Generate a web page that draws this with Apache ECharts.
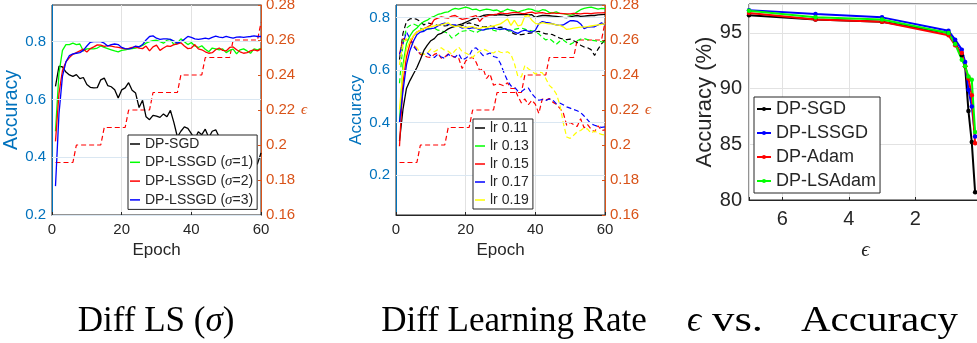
<!DOCTYPE html>
<html>
<head>
<meta charset="utf-8">
<script src="https://cdn.jsdelivr.net/npm/echarts@6/dist/echarts.min.js"></script>
<style>
  html, body { margin: 0; padding: 0; background: #fff; }
  #chart { width: 977px; height: 343px; }
</style>
</head>
<body>
<div id="chart"></div>
<script>
// ---- training epochs (shared by the two training panels) ----
const epochs = [1,2,3,4,5,6,7,8,9,10,11,12,13,14,15,16,17,18,19,20,
  21,22,23,24,25,26,27,28,29,30,31,32,33,34,35,36,37,38,39,40,
  41,42,43,44,45,46,47,48,49,50,51,52,53,54,55,56,57,58,59,60];

// privacy budget spent after each epoch (right axis, dashed red)
const epsilonBudget = [0.19,0.19,0.19,0.19,0.19,0.19,0.20,0.20,0.20,0.20,
  0.20,0.20,0.20,0.20,0.21,0.21,0.21,0.21,0.21,0.21,
  0.21,0.22,0.22,0.22,0.22,0.22,0.22,0.22,0.23,0.23,
  0.23,0.23,0.23,0.23,0.23,0.23,0.24,0.24,0.24,0.24,
  0.24,0.24,0.24,0.25,0.25,0.25,0.25,0.25,0.25,0.25,
  0.25,0.26,0.26,0.26,0.26,0.26,0.26,0.26,0.26,0.27];

// accuracy ticks shown on the left axes
const accuracyTicks = [0.2, 0.4, 0.6, 0.8];

// ---- panel 1: smoothing parameter sigma ----
const lsNames = ['DP-SGD', 'DP-LSSGD (σ=1)', 'DP-LSSGD (σ=2)', 'DP-LSSGD (σ=3)'];
const accSGD = [0.645,0.715,0.713,0.695,0.685,0.680,0.686,0.672,0.676,0.652,
  0.642,0.640,0.641,0.668,0.674,0.648,0.644,0.634,0.605,0.633,
  0.640,0.658,0.632,0.622,0.572,0.597,0.540,0.530,0.545,0.542,
  0.538,0.550,0.540,0.562,0.520,0.470,0.490,0.505,0.500,0.482,
  0.462,0.488,0.478,0.497,0.468,0.490,0.495,0.470,0.452,0.440,
  0.432,0.420,0.415,0.405,0.395,0.388,0.370,0.365,0.378,0.415];
const accSigma1 = [0.490,0.690,0.770,0.790,0.790,0.795,0.790,0.792,0.768,0.775,
  0.776,0.775,0.778,0.785,0.780,0.776,0.772,0.768,0.765,0.770,
  0.772,0.774,0.776,0.778,0.782,0.787,0.795,0.800,0.804,0.805,
  0.800,0.795,0.805,0.808,0.790,0.795,0.810,0.800,0.790,0.797,
  0.785,0.780,0.786,0.774,0.765,0.778,0.775,0.772,0.775,0.762,
  0.770,0.774,0.758,0.772,0.775,0.768,0.760,0.775,0.772,0.777];
const accSigma2 = [0.455,0.620,0.700,0.730,0.745,0.756,0.762,0.768,0.774,0.764,
  0.776,0.782,0.789,0.788,0.784,0.786,0.785,0.782,0.780,0.778,
  0.775,0.777,0.780,0.782,0.778,0.776,0.785,0.768,0.782,0.788,
  0.770,0.778,0.785,0.784,0.790,0.792,0.796,0.785,0.776,0.778,
  0.790,0.775,0.772,0.765,0.760,0.762,0.772,0.778,0.770,0.768,
  0.780,0.782,0.772,0.765,0.760,0.762,0.768,0.772,0.768,0.775];
const accSigma3 = [0.300,0.550,0.680,0.730,0.752,0.758,0.760,0.762,0.770,0.785,
  0.798,0.800,0.800,0.800,0.795,0.785,0.790,0.792,0.790,0.780,
  0.776,0.775,0.778,0.785,0.782,0.790,0.806,0.818,0.820,0.812,
  0.808,0.810,0.810,0.808,0.802,0.795,0.800,0.808,0.818,0.815,
  0.810,0.808,0.810,0.812,0.810,0.815,0.819,0.816,0.814,0.818,
  0.815,0.812,0.816,0.817,0.815,0.817,0.818,0.820,0.818,0.818];

// ---- panel 2: learning rates (solid and dashed curve per rate) ----
const lrNames = ['lr 0.11', 'lr 0.13', 'lr 0.15', 'lr 0.17', 'lr 0.19'];
const lr011Solid = [0.330,0.450,0.530,0.560,0.585,0.610,0.640,0.675,0.695,0.712,
  0.720,0.735,0.740,0.748,0.757,0.763,0.767,0.772,0.776,0.782,
  0.788,0.794,0.799,0.803,0.808,0.810,0.811,0.810,0.810,0.811,
  0.810,0.808,0.810,0.811,0.812,0.811,0.812,0.810,0.811,0.800,
  0.806,0.808,0.808,0.807,0.806,0.805,0.803,0.801,0.800,0.803,
  0.806,0.808,0.805,0.806,0.807,0.808,0.808,0.810,0.811,0.812];
const lr013Solid = [0.400,0.620,0.700,0.730,0.750,0.760,0.775,0.785,0.790,0.800,
  0.805,0.812,0.815,0.820,0.822,0.830,0.835,0.832,0.836,0.840,
  0.836,0.830,0.832,0.826,0.829,0.832,0.830,0.827,0.829,0.822,
  0.826,0.832,0.828,0.826,0.820,0.826,0.829,0.833,0.831,0.826,
  0.824,0.830,0.828,0.820,0.818,0.822,0.816,0.815,0.812,0.808,
  0.812,0.822,0.830,0.835,0.838,0.840,0.836,0.832,0.835,0.834];
const lr015Solid = [0.310,0.550,0.650,0.700,0.730,0.745,0.752,0.758,0.764,0.772,
  0.792,0.798,0.803,0.800,0.798,0.806,0.808,0.800,0.793,0.796,
  0.800,0.804,0.808,0.785,0.800,0.806,0.810,0.811,0.813,0.818,
  0.816,0.815,0.818,0.820,0.819,0.816,0.815,0.819,0.821,0.816,
  0.818,0.819,0.816,0.815,0.818,0.816,0.816,0.815,0.814,0.814,
  0.816,0.815,0.814,0.816,0.816,0.815,0.817,0.818,0.818,0.819];
const lr017Solid = [0.400,0.520,0.620,0.675,0.710,0.735,0.745,0.748,0.757,0.758,
  0.760,0.768,0.775,0.779,0.774,0.772,0.772,0.767,0.760,0.764,
  0.758,0.762,0.760,0.754,0.752,0.757,0.758,0.760,0.757,0.755,
  0.758,0.754,0.752,0.745,0.740,0.748,0.752,0.748,0.745,0.752,
  0.776,0.785,0.782,0.780,0.776,0.772,0.770,0.772,0.780,0.788,
  0.788,0.786,0.776,0.758,0.764,0.765,0.765,0.772,0.780,0.772];
const lr019Solid = [0.450,0.600,0.680,0.710,0.730,0.745,0.752,0.758,0.762,0.766,
  0.768,0.771,0.772,0.776,0.780,0.770,0.766,0.768,0.764,0.762,
  0.765,0.766,0.760,0.758,0.764,0.762,0.766,0.768,0.772,0.776,
  0.785,0.795,0.770,0.790,0.768,0.772,0.805,0.808,0.790,0.778,
  0.775,0.781,0.778,0.776,0.776,0.772,0.770,0.765,0.755,0.757,
  0.760,0.762,0.764,0.765,0.766,0.768,0.770,0.772,0.774,0.776];
const lr011Dashed = [0.640,0.740,0.785,0.795,0.797,0.793,0.785,0.772,0.780,0.777,
  0.775,0.770,0.772,0.768,0.770,0.772,0.768,0.765,0.770,0.775,
  0.780,0.776,0.772,0.768,0.765,0.766,0.768,0.765,0.762,0.764,
  0.762,0.752,0.745,0.738,0.735,0.735,0.737,0.740,0.742,0.745,
  0.748,0.742,0.738,0.738,0.735,0.728,0.722,0.718,0.716,0.718,
  0.712,0.705,0.695,0.688,0.685,0.678,0.656,0.680,0.700,0.715];
const lr013Dashed = [0.550,0.700,0.760,0.770,0.776,0.770,0.760,0.750,0.755,0.758,
  0.760,0.752,0.750,0.745,0.740,0.722,0.730,0.740,0.748,0.750,
  0.752,0.748,0.742,0.750,0.752,0.756,0.758,0.752,0.748,0.755,
  0.758,0.752,0.748,0.755,0.758,0.760,0.756,0.752,0.750,0.745,
  0.738,0.725,0.715,0.720,0.710,0.698,0.710,0.715,0.705,0.698,
  0.705,0.712,0.718,0.720,0.716,0.714,0.712,0.710,0.708,0.706];
const lr015Dashed = [0.660,0.720,0.715,0.720,0.700,0.675,0.660,0.655,0.650,0.648,
  0.660,0.665,0.645,0.650,0.662,0.655,0.648,0.645,0.606,0.635,
  0.645,0.648,0.630,0.598,0.606,0.568,0.585,0.542,0.548,0.545,
  0.540,0.552,0.530,0.530,0.500,0.475,0.490,0.468,0.485,0.470,
  0.435,0.490,0.485,0.492,0.478,0.470,0.455,0.438,0.390,0.400,
  0.392,0.385,0.415,0.380,0.392,0.375,0.365,0.388,0.370,0.372];
const lr017Dashed = [0.660,0.700,0.745,0.720,0.690,0.675,0.665,0.660,0.665,0.655,
  0.648,0.660,0.650,0.645,0.660,0.652,0.650,0.662,0.638,0.645,
  0.655,0.680,0.685,0.670,0.655,0.660,0.665,0.652,0.648,0.625,
  0.590,0.560,0.540,0.535,0.520,0.518,0.528,0.532,0.510,0.495,
  0.485,0.488,0.484,0.490,0.486,0.472,0.475,0.468,0.460,0.455,
  0.450,0.445,0.438,0.425,0.410,0.395,0.390,0.385,0.382,0.384];
const lr019Dashed = [0.620,0.700,0.720,0.705,0.695,0.685,0.665,0.660,0.665,0.680,
  0.670,0.678,0.685,0.675,0.672,0.660,0.675,0.688,0.670,0.665,
  0.658,0.648,0.662,0.672,0.680,0.675,0.668,0.665,0.675,0.668,
  0.665,0.670,0.660,0.625,0.575,0.574,0.618,0.605,0.595,0.585,
  0.592,0.590,0.568,0.542,0.530,0.510,0.470,0.400,0.345,0.340,
  0.352,0.365,0.370,0.380,0.375,0.360,0.368,0.360,0.355,0.352];

// ---- panel 3: accuracy (%) against the privacy budget epsilon ----
const epsLevels = [7, 5, 3, 1, 0.8, 0.6, 0.5, 0.4, 0.3, 0.2];
const optNames = ['DP-SGD', 'DP-LSSGD', 'DP-Adam', 'DP-LSAdam'];
const accDPSGD   = [96.6, 96.2, 96.0, 95.0, 94.1, 93.0, 92.0, 88.0, 85.2, 80.7];
const accDPLSSGD = [97.05, 96.7, 96.4, 95.2, 94.4, 93.5, 92.4, 89.9, 88.4, 85.7];
const accDPAdam  = [96.8, 96.2, 96.0, 94.8, 93.9, 93.2, 92.0, 90.9, 89.4, 85.1];
const accDPLSAdam= [97.0, 96.4, 96.2, 95.0, 94.0, 92.6, 92.0, 91.1, 90.8, 86.1];

// ---- styling ----
const SANS = '"Liberation Sans", Arial, Helvetica, sans-serif';
const SERIF = '"Liberation Serif", "Times New Roman", serif';
const INK = '#262626';
const LEFT_BLUE = '#0072BD';
const RIGHT_ORANGE = '#D95319';
const GRID_V = '#e2e2e2';
const GRID_H = '#dae7f2';

const pair = (xs, ys) => xs.map((x, i) => [x, ys[i]]);

function epochAxis(gridIndex) {
  return {
    gridIndex, type: 'value', min: 0, max: 60, interval: 20,
    name: 'Epoch', nameLocation: 'middle', nameGap: 27,
    nameTextStyle: { color: INK, fontSize: 17, fontFamily: SANS },
    axisLine: { show: true, lineStyle: { color: INK, width: 1 } },
    axisTick: { show: true, inside: true, length: 3, lineStyle: { color: INK } },
    axisLabel: { color: INK, fontSize: 15, fontFamily: SANS, margin: 7 },
    splitLine: { show: true, lineStyle: { color: GRID_V, width: 1 } }
  };
}
function accuracyAxis(gridIndex, min, max, nameSize, nameGap) {
  return {
    gridIndex, type: 'value', position: 'left', min, max,
    name: 'Accuracy', nameLocation: 'middle', nameGap,
    nameTextStyle: { color: LEFT_BLUE, fontSize: nameSize, fontFamily: SANS },
    axisLine: { show: true, lineStyle: { color: LEFT_BLUE, width: 1 } },
    axisTick: { show: true, inside: true, length: 3, lineStyle: { color: LEFT_BLUE },
      customValues: accuracyTicks },
    axisLabel: { color: LEFT_BLUE, fontSize: 15, fontFamily: SANS, margin: 6,
      customValues: accuracyTicks, formatter: v => String(+(+v).toFixed(1)) },
    splitLine: { show: false }
  };
}
function budgetAxis(gridIndex) {
  return {
    gridIndex, type: 'value', position: 'right', min: 0.16, max: 0.28, interval: 0.02,
    name: 'ϵ', nameLocation: 'middle', nameGap: 40, nameRotate: 0,
    nameTextStyle: { color: RIGHT_ORANGE, fontSize: 15, fontFamily: SERIF, fontStyle: 'italic' },
    axisLine: { show: true, lineStyle: { color: RIGHT_ORANGE, width: 1 } },
    axisTick: { show: true, inside: true, length: 3, lineStyle: { color: RIGHT_ORANGE } },
    axisLabel: { color: RIGHT_ORANGE, fontSize: 15, fontFamily: SANS, margin: 5,
      formatter: v => String(+v.toFixed(2)) },
    splitLine: { show: false }
  };
}
// horizontal accuracy grid lines, drawn on the accuracy axis of a panel
function accuracyGrid(xIdx, yIdx) {
  return {
    type: 'line', xAxisIndex: xIdx, yAxisIndex: yIdx, data: [], silent: true, z: 1,
    markLine: {
      silent: true, symbol: 'none', label: { show: false }, animation: false,
      lineStyle: { color: GRID_H, width: 1, type: 'solid' },
      data: accuracyTicks.map(v => ({ yAxis: v }))
    }
  };
}
function curve(name, values, color, xIdx, yIdx, dashed) {
  return {
    type: 'line', name, xAxisIndex: xIdx, yAxisIndex: yIdx,
    data: pair(epochs, values), symbol: 'none', showSymbol: false,
    lineStyle: { color, width: dashed ? 1.2 : 1.3, type: dashed ? [5, 3] : 'solid' },
    itemStyle: { color }, silent: true, z: 2
  };
}
function epsCurve(name, values, color) {
  return {
    type: 'line', name, xAxisIndex: 2, yAxisIndex: 4,
    data: pair(epsLevels, values), symbol: 'circle', symbolSize: 4.5, showSymbol: true,
    lineStyle: { color, width: 2 }, itemStyle: { color }, silent: true
  };
}
function boxLegend(extra) {
  return Object.assign({
    orient: 'vertical', backgroundColor: '#ffffff',
    borderColor: INK, borderWidth: 1, z: 10,
    textStyle: { color: INK, fontFamily: SANS }
  }, extra);
}
const gridBase = { show: true, borderColor: INK, borderWidth: 1, backgroundColor: 'transparent',
  containLabel: false, outerBoundsMode: 'none' };
const titleFont = '35px ' + SERIF;
const titleItalic = 'italic 35px ' + SERIF;

const chart = echarts.init(document.getElementById('chart'), null, { renderer: 'canvas' });

const option = {
  animation: false,
  backgroundColor: '#ffffff',
  grid: [
    Object.assign({ left: 52, top: 5, width: 209, height: 210 }, gridBase),
    Object.assign({ left: 396, top: 5, width: 209, height: 210 }, gridBase),
    Object.assign({ left: 749, top: 4, width: 232.75, height: 196 }, gridBase)
  ],
  xAxis: [
    epochAxis(0),
    epochAxis(1),
    {
      gridIndex: 2, type: 'value', min: 0, max: 7, interval: 2, inverse: true,
      name: 'ϵ', nameLocation: 'middle', nameGap: 40,
      nameTextStyle: { color: INK, fontSize: 21, fontFamily: SERIF, fontStyle: 'italic' },
      axisLine: { show: true, lineStyle: { color: INK, width: 1 } },
      axisTick: { show: true, inside: true, length: 3, lineStyle: { color: INK } },
      axisLabel: { color: INK, fontSize: 20, fontFamily: SANS, margin: 9,
        formatter: v => (v === 2 || v === 4 || v === 6 ? String(v) : '') },
      splitLine: { show: true, lineStyle: { color: GRID_V, width: 1 } }
    }
  ],
  yAxis: [
    accuracyAxis(0, 0.2, 0.927, 19.5, 26),
    budgetAxis(0),
    accuracyAxis(1, 0.048, 0.848, 17, 28),
    budgetAxis(1),
    {
      gridIndex: 2, type: 'value', min: 80, max: 97.6, interval: 5,
      name: 'Accuracy (%)', nameLocation: 'middle', nameGap: 33,
      nameTextStyle: { color: INK, fontSize: 22, fontFamily: SANS },
      axisLine: { show: true, lineStyle: { color: INK, width: 1 } },
      axisTick: { show: true, inside: true, length: 3, lineStyle: { color: INK } },
      axisLabel: { color: INK, fontSize: 20, fontFamily: SANS, margin: 7,
        formatter: v => (v % 5 === 0 ? String(v) : '') },
      splitLine: { show: true, lineStyle: { color: GRID_V, width: 1 } }
    }
  ],
  legend: [
    boxLegend({
      left: 128, top: 135, data: lsNames, icon: 'rect', itemWidth: 10, itemHeight: 1.5, itemGap: 3.8,
      padding: [2, 4, 2, 2],
      textStyle: { color: INK, fontFamily: SANS, fontSize: 14,
        rich: { i: { fontFamily: SERIF, fontStyle: 'italic', fontSize: 15, color: INK } } },
      formatter: n => n.replace('σ', '{i|σ}')
    }),
    boxLegend({
      left: 473, top: 119, data: lrNames, icon: 'rect', itemWidth: 10, itemHeight: 1.5, itemGap: 4,
      padding: [2, 4, 2, 2],
      textStyle: { color: INK, fontFamily: SANS, fontSize: 14 }
    }),
    boxLegend({
      left: 754, top: 97, data: optNames, itemWidth: 14, itemHeight: 5, itemGap: 6,
      padding: [3, 4, 3, 2],
      textStyle: { color: INK, fontFamily: SANS, fontSize: 18 }
    })
  ],
  series: [
    // panel 1
    accuracyGrid(0, 0),
    curve('budget-1', epsilonBudget, '#FF0000', 0, 1, true),
    curve(lsNames[0], accSGD, '#000000', 0, 0, false),
    curve(lsNames[1], accSigma1, '#00FF00', 0, 0, false),
    curve(lsNames[2], accSigma2, '#FF0000', 0, 0, false),
    curve(lsNames[3], accSigma3, '#0000FF', 0, 0, false),
    // panel 2
    accuracyGrid(1, 2),
    curve('budget-2', epsilonBudget, '#FF0000', 1, 3, true),
    curve('lr 0.11 dashed', lr011Dashed, '#000000', 1, 2, true),
    curve('lr 0.13 dashed', lr013Dashed, '#00FF00', 1, 2, true),
    curve('lr 0.15 dashed', lr015Dashed, '#FF0000', 1, 2, true),
    curve('lr 0.17 dashed', lr017Dashed, '#0000FF', 1, 2, true),
    curve('lr 0.19 dashed', lr019Dashed, '#FFFF00', 1, 2, true),
    curve(lrNames[0], lr011Solid, '#000000', 1, 2, false),
    curve(lrNames[1], lr013Solid, '#00FF00', 1, 2, false),
    curve(lrNames[2], lr015Solid, '#FF0000', 1, 2, false),
    curve(lrNames[3], lr017Solid, '#0000FF', 1, 2, false),
    curve(lrNames[4], lr019Solid, '#FFFF00', 1, 2, false),
    // panel 3
    epsCurve(optNames[0], accDPSGD, '#000000'),
    epsCurve(optNames[1], accDPLSSGD, '#0000FF'),
    epsCurve(optNames[2], accDPAdam, '#FF0000'),
    epsCurve(optNames[3], accDPLSAdam, '#00FF00')
  ],
  graphic: [
    { type: 'text', x: 156, y: 322, silent: true,
      style: { text: 'Diff LS ({i|σ})', fill: '#000', font: titleFont, align: 'center', verticalAlign: 'middle',
        rich: { i: { font: titleItalic, fill: '#000' } } } },
    { type: 'text', x: 514, y: 322, silent: true,
      style: { text: 'Diff Learning Rate', fill: '#000', font: titleFont, align: 'center', verticalAlign: 'middle' } },
    { type: 'text', x: 694, y: 322, silent: true,
      style: { text: 'ϵ', fill: '#000', font: titleItalic, align: 'center', verticalAlign: 'middle' } },
    { type: 'text', x: 712, y: 322, scaleX: 1.28, originX: 0, originY: 0, silent: true,
      style: { text: 'vs.', fill: '#000', font: titleFont, align: 'left', verticalAlign: 'middle' } },
    { type: 'text', x: 801, y: 322, scaleX: 1.17, originX: 0, originY: 0, silent: true,
      style: { text: 'Accuracy', fill: '#000', font: titleFont, align: 'left', verticalAlign: 'middle' } }
  ]
};

chart.setOption(option);
</script>
</body>
</html>
